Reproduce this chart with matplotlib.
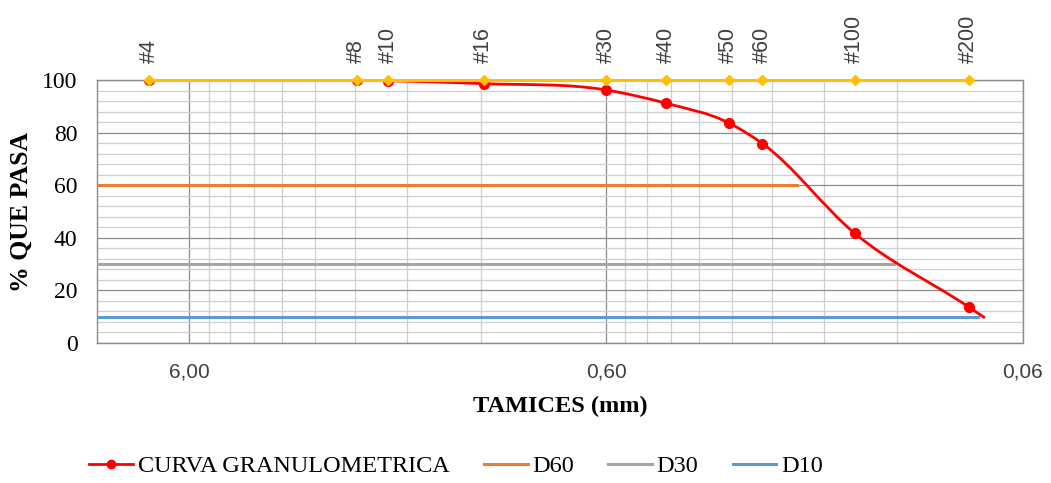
import numpy as np
import matplotlib.pyplot as plt
from matplotlib.path import Path
from matplotlib.patches import PathPatch
from matplotlib.lines import Line2D
from matplotlib.ticker import FixedLocator, FuncFormatter, MultipleLocator, NullFormatter

# datos
TAMICES = ['#4', '#8', '#10', '#16', '#30', '#40', '#50', '#60', '#100', '#200']
ABERTURA = [7.5, 2.38, 2.0, 1.18, 0.6, 0.43, 0.305, 0.253, 0.152, 0.081]
PASA = [100, 99.9, 99.7, 98.6, 96.2, 91.1, 83.7, 75.8, 41.7, 13.7]
FIN_X, FIN_Y = 0.074, 9.5   # remate de la curva, sin marcador

D_INICIO = 10
D60_X, D30_X, D10_X = 0.209, 0.122, 0.077
X_TICKS = [6, 0.6, 0.06]
Y_TICKS = [0, 20, 40, 60, 80, 100]

SERIF = 'Liberation Serif'
SANS = 'Liberation Sans'


# curva suavizada (Hermite cubica en escala log, como Bezier)
def curva_suave(x, y):
    lx = np.log10(x)
    y = np.asarray(y, float)
    h = np.diff(lx)
    d = np.diff(y) / h
    m = np.empty(len(y))
    m[0], m[-1] = d[0], d[-1]
    for i in range(1, len(y) - 1):
        m[i] = (h[i - 1] * d[i] + h[i] * d[i - 1]) / (h[i - 1] + h[i])
    verts = [(lx[0], y[0])]
    codes = [Path.MOVETO]
    for i in range(len(h)):
        verts += [(lx[i] + h[i] / 3, y[i] + m[i] * h[i] / 3),
                  (lx[i + 1] - h[i] / 3, y[i + 1] - m[i + 1] * h[i] / 3),
                  (lx[i + 1], y[i + 1])]
        codes += [Path.CURVE4] * 3
    v = np.array(verts)
    v[:, 0] = 10 ** v[:, 0]
    return Path(v, codes)


fig = plt.figure(figsize=(10.51, 4.83), dpi=100)
ax = fig.add_axes([0.0923, 0.2899, 0.881, 0.5445])

ax.set_xscale('log')
ax.set_xlim(D_INICIO, X_TICKS[-1])
ax.set_ylim(0, 100)

# lineas D
h60, = ax.plot([D_INICIO, D60_X], [60, 60], color='#ED7D31', lw=2.2, zorder=3, label='D60')
h30, = ax.plot([D_INICIO, D30_X], [30, 30], color='#A5A5A5', lw=2.2, zorder=3, label='D30')
h10, = ax.plot([D_INICIO, D10_X], [10, 10], color='#5B9BD5', lw=2.2, zorder=3, label='D10')

# curva granulometrica
xs = ABERTURA + [FIN_X]
ys = PASA + [FIN_Y]
ax.add_patch(PathPatch(curva_suave(xs, ys), fill=False, edgecolor='#FF0000', lw=2.0, zorder=4))
ax.plot(ABERTURA, PASA, 'o', color='#FF0000', ms=7, zorder=5)

# linea de tamices arriba
ax.plot(ABERTURA, [100] * len(ABERTURA), color='#FFC000', lw=2.2, marker='D', ms=5.5,
        zorder=6, clip_on=False)
for t, x in zip(TAMICES, ABERTURA):
    ax.annotate(t, (x, 100), xytext=(0, 12), textcoords='offset points', rotation=90,
                ha='center', va='bottom', fontsize=15.5, family=SANS, color='#404040')

# ejes y grilla
minors = [m * k for m in X_TICKS for k in range(2, 10) if m * k < D_INICIO]
ax.xaxis.set_major_locator(FixedLocator(X_TICKS))
ax.xaxis.set_minor_locator(FixedLocator(minors))
ax.xaxis.set_major_formatter(FuncFormatter(lambda v, p: f'{v:.2f}'.replace('.', ',')))
ax.xaxis.set_minor_formatter(NullFormatter())
ax.yaxis.set_major_locator(FixedLocator(Y_TICKS))
ax.yaxis.set_minor_locator(MultipleLocator(4))

ax.grid(which='major', color='#8c8c8c', lw=0.9, zorder=1)
ax.grid(which='minor', color='#cfcfcf', lw=0.9, zorder=1)
ax.set_axisbelow(True)
for s in ax.spines.values():
    s.set_color('#8c8c8c')
    s.set_linewidth(1.0)

ax.tick_params(which='both', length=0)
ax.tick_params(axis='x', pad=14, labelsize=15, colors='#404040')
ax.tick_params(axis='y', pad=14, labelsize=17)
for lb in ax.get_xticklabels():
    lb.set_family(SANS)
for lb in ax.get_yticklabels():
    lb.set_family(SERIF)

ax.set_xlabel('TAMICES (mm)', fontsize=17.5, fontweight='bold', family=SERIF)
ax.set_ylabel('% QUE PASA', fontsize=18.5, fontweight='bold', family=SERIF)
ax.xaxis.set_label_coords(0.5, -0.2)
ax.yaxis.set_label_coords(-0.069, 0.5)

rojo = Line2D([], [], color='#FF0000', lw=2.0, marker='o', ms=6)
fig.legend([rojo, h60, h30, h10], ['CURVA GRANULOMETRICA', 'D60', 'D30', 'D10'],
           loc='center', bbox_to_anchor=(0.434, 0.035), ncol=4, frameon=False,
           prop={'family': SERIF, 'size': 17.5}, handlelength=1.8, handletextpad=0.2,
           columnspacing=1.4)

fig.savefig('out.png', dpi=100)
